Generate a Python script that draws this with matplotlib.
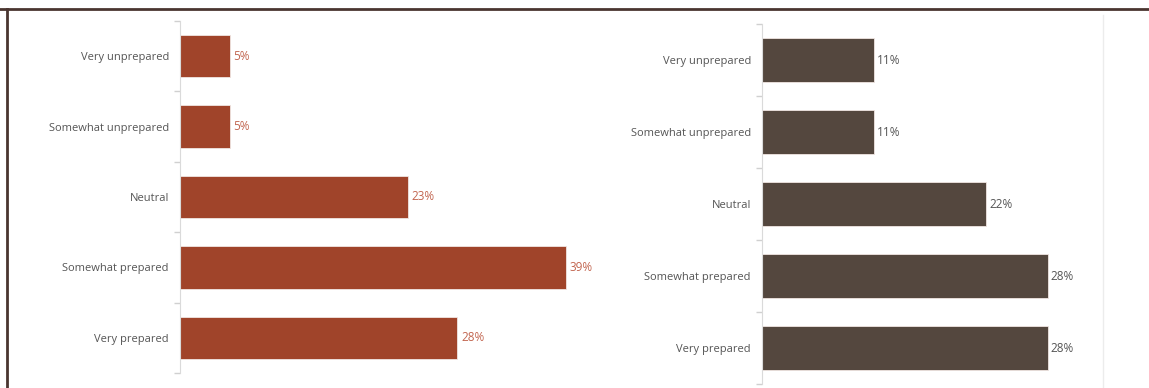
import matplotlib.pyplot as plt
from matplotlib.lines import Line2D

categories = ["Very unprepared", "Somewhat unprepared", "Neutral",
              "Somewhat prepared", "Very prepared"]
left_values = [5, 5, 23, 39, 28]
right_values = [11, 11, 22, 28, 28]

W, H = 1149, 388
plt.rcParams['font.family'] = ['Open Sans', 'DejaVu Sans']

fig = plt.figure(figsize=(W / 100, H / 100), dpi=100)


def add_ax(left, top, width, height):
    # pixel box -> figure fraction
    return fig.add_axes([left / W, 1 - (top + height) / H, width / W, height / H])


def draw_panel(ax, values, bar_color, label_color, xmax):
    y = list(range(len(categories)))
    ax.barh(y, values, height=0.6, color=bar_color, edgecolor='#f0e6e2', linewidth=0.6)
    for yi, v in zip(y, values):
        ax.text(v + xmax * 0.009, yi, f"{v}%", va='center', ha='left',
                fontsize=8.5, color=label_color)
    ax.set_ylim(len(categories) - 0.5, -0.5)
    ax.set_xlim(0, xmax)
    ax.set_yticks(y)
    ax.set_yticklabels(categories, fontsize=8, color='#555555')
    ax.set_yticks([i - 0.5 for i in range(len(categories) + 1)], minor=True)
    ax.tick_params(axis='y', which='major', length=0, pad=8)
    ax.tick_params(axis='y', which='minor', length=4, color='#d0d0d0', width=1)
    ax.set_xticks([])
    for s in ['top', 'right', 'bottom']:
        ax.spines[s].set_visible(False)
    ax.spines['left'].set_color('#dadada')
    ax.patch.set_alpha(0)


ax1 = add_ax(180, 21, 420, 352)
draw_panel(ax1, left_values, '#a0442a', '#c2654f', 420 / 9.9)

ax2 = add_ax(762, 24, 330, 360)
draw_panel(ax2, right_values, '#54473e', '#555555', 330 / 10.2)

# frame lines around the page area
fig.add_artist(Line2D([0, 1], [1 - 9 / H, 1 - 9 / H], color='#4a3530', linewidth=2))
fig.add_artist(Line2D([7 / W, 7 / W], [0, 1 - 9 / H], color='#4a3530', linewidth=2))
fig.add_artist(Line2D([1103 / W, 1103 / W], [0, 1 - 15 / H], color='#ececec', linewidth=1))

fig.savefig('out.png', dpi=100)
